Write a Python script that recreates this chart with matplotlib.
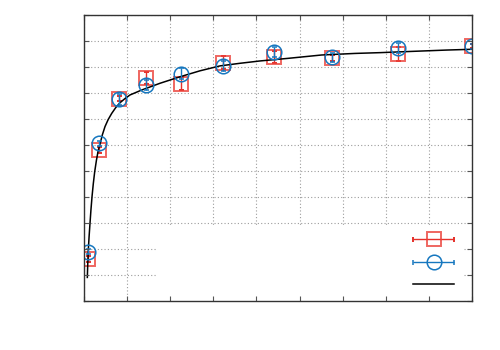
import numpy as np
import matplotlib
matplotlib.use('Agg')
import matplotlib.pyplot as plt
from matplotlib.patches import Rectangle
from matplotlib.container import ErrorbarContainer
from matplotlib.legend_handler import HandlerErrorbar

# Data.
x = [8.6, 35, 81, 144, 225, 322, 441, 575, 728, 900]
ySquare = [0.160, 0.580, 0.778, 0.858, 0.836, 0.916, 0.939, 0.933, 0.950, 0.981]
errSquare = [0.012, 0.012, 0.010, 0.022, 0.025, 0.025, 0.024, 0.012, 0.028, 0.008]
yCircle = [0.188, 0.605, 0.775, 0.830, 0.873, 0.903, 0.959, 0.937, 0.974, 0.979]
errCircle = [0.010, 0.010, 0.020, 0.018, 0.021, 0.020, 0.019, 0.017, 0.019, 0.010]
xFit = [7.7, 8.8, 10.0, 11.8, 13.9, 16.1, 18.6, 21.5, 24.8, 28.8, 33.2, 37.1, 42.5, 48.7,
        56.0, 64.3, 73.5, 83.5, 95.0, 106.7, 133.8, 176.3, 222.7, 269, 315.5, 361.9,
        408.2, 473.2, 551.4, 628.6, 686.6, 763.1, 841.3, 900]
yFit = [0.089, 0.145, 0.195, 0.246, 0.297, 0.349, 0.400, 0.449, 0.496, 0.540, 0.580, 0.602,
        0.638, 0.670, 0.697, 0.721, 0.743, 0.762, 0.778, 0.792, 0.811, 0.837, 0.862, 0.885,
        0.904, 0.914, 0.923, 0.933, 0.946, 0.952, 0.955, 0.960, 0.965, 0.968]
xTicks = np.arange(0, 901, 100)
yTicks = np.arange(0, 1.11, 0.1)

red = '#e5302a'
redLight = (0.92, 0.25, 0.22, 0.8)
blue = '#1677bf'

fig = plt.figure(figsize=(5, 3.5), dpi=100)
pos = [0.168, 0.1414, 0.776, 0.8157]
ax = fig.add_axes(pos)
ax.set_axisbelow(True)
ax.grid(True, color='#9c9c9c', linestyle=(0, (1, 2)), linewidth=0.8)
ax.tick_params(length=0, labelbottom=False, labelleft=False)
for s in ax.spines.values():
    s.set_visible(False)
ax.set_xticks(xTicks); ax.set_yticks(yTicks)
ax.set_xlim(0, 900); ax.set_ylim(0, 1.1)

# opaque key box (hides the grid behind the legend)
ax.add_patch(Rectangle((0.186, 0), 0.791, 0.261, transform=ax.transAxes,
                       facecolor='white', edgecolor='none', zorder=1))

sq = ax.errorbar(x, ySquare, yerr=errSquare, fmt='s', ms=10.5, mfc='none', mec=redLight,
                 mew=1.4, ecolor=red, elinewidth=1, capsize=1.8, capthick=1, zorder=2)
fitLine, = ax.plot(xFit, yFit, color='black', lw=1.1, zorder=3)
ci = ax.errorbar(x, yCircle, yerr=errCircle, fmt='o', ms=10.5, mfc='none', mec=blue,
                 mew=1.1, ecolor=blue, elinewidth=1, capsize=1.8, capthick=1, zorder=4)

# key with horizontal error bars, like the original
sqKey = ErrorbarContainer((sq.lines[0], sq.lines[1], sq.lines[2]), has_xerr=True, has_yerr=False)
ciKey = ErrorbarContainer((ci.lines[0], ci.lines[1], ci.lines[2]), has_xerr=True, has_yerr=False)
hl = 2.95
ax.legend([sqKey, ciKey, fitLine], ['', '', ''], loc='lower right', bbox_to_anchor=(0.9536, 0.03),
          frameon=False, fontsize=10, handlelength=hl, handletextpad=0, borderpad=0,
          borderaxespad=0, labelspacing=0.6, numpoints=1,
          handler_map={ErrorbarContainer: HandlerErrorbar(xerr_size=hl / 2)})

# frame and inward ticks on top
axFrame = fig.add_axes(pos, sharex=ax, sharey=ax)
axFrame.patch.set_visible(False)
axFrame.tick_params(direction='in', top=True, right=True, length=3.5, width=0.8, color='#555555',
                    labelbottom=False, labelleft=False)
for s in axFrame.spines.values():
    s.set_color('#333333'); s.set_linewidth(1.0)

fig.savefig('out.png', dpi=100)
